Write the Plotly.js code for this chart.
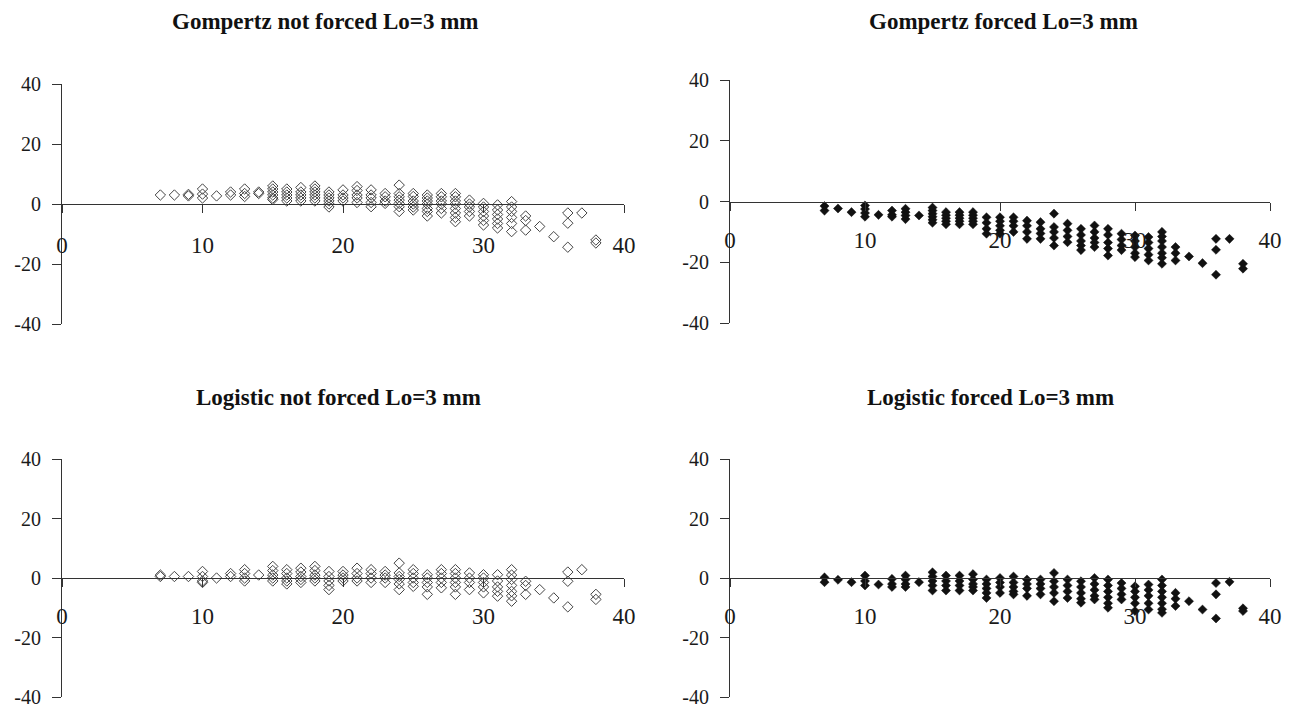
<!DOCTYPE html>
<html><head><meta charset="utf-8">
<script src="https://cdn.plot.ly/plotly-3.0.1.min.js"></script>
<style>html,body{margin:0;padding:0;background:#fff}#chart{width:1290px;height:710px}</style>
</head><body><div id="chart"></div>
<script>
const xCols = [7,8,9,10,11,12,13,14,15,16,17,18,19,20,21,22,23,24,25,26,27,28,29,30,31,32,33,34,35,36,37,38];

const gompertzNotForced = [
 [3],[3],[2.7,3.2],[5,3.3,2],[2.7],[4,3],[5,3.5,2.5],[4,3.5],
 [6,5,4,3,2,1.5],[5,4,3,2,1],[5.5,4,3,2,1],[6,5,4,3,2,1],[4,3,2,1,0,-1],
 [4.7,3,2,1],[5.8,4.5,3,2,0.5],[4.7,3,2,0.5,-0.9],[3.5,2.4,1,0.2],
 [6.3,3.5,2.4,1.3,0.2,-0.9,-2.5],[3.5,2.5,1,0,-1,-2],[3,2,1,0,-1.5,-2.5,-4],
 [3.5,2.4,1,0,-1.5,-3],[3.5,2.4,1,0,-1.5,-3,-4.5,-5.9],[1.3,0,-1,-2.5,-4],
 [0.2,-1,-2.5,-4,-5.5,-7],[-0.3,-2,-3.5,-5,-6.5,-8],[0.8,-1,-2.5,-4.5,-6.5,-9.2],
 [-4,-5.5,-8.7],[-7.5],[-10.9],[-3,-6.4,-14.4],[-3],[-12,-13]
];

const gompertzForced = [
 [-1.5,-3],[-2.3],[-3.5],[-1.3,-2.5,-3.8,-5],[-4.4],[-3,-4.4,-5],[-2.4,-3.5,-4.6,-5.8],[-4.6],
 [-2,-3,-4,-5,-6,-7],[-3.5,-4.5,-5.5,-6.5,-7.5],[-3.5,-4.5,-5.5,-6.5,-7.5],[-3.5,-4.5,-5.5,-6.5,-7.5],
 [-5.2,-7,-9,-10.6],[-5.2,-6.5,-8,-9.5,-10.6],[-5.2,-6.5,-8,-10],[-6.3,-8,-10,-12.3],[-6.8,-9,-10.5,-12.3],
 [-4,-8.4,-10,-12,-14.5],[-7.3,-9.5,-11.5,-13.4],[-9,-11,-13,-14.5,-16],[-7.9,-10,-12,-13.5,-15],
 [-9,-11,-13.5,-15.5,-17.8],[-10.6,-12.5,-14.5,-16],[-11.2,-13,-15,-17,-18.3],[-11.7,-13.5,-15.5,-17.5,-19.4],
 [-10,-11.5,-13,-15,-17,-18.5,-20.5],[-15,-17,-19.4],[-18.1],[-20.3],[-12.3,-15.9,-24.1],[-12.3],[-20.5,-22.1]
];

const logisticNotForced = [
 [0.5,1],[0.5],[0.5],[2.2,0.5,-1,-1.5],[0],[1.5,0.5],[2.8,1.5,0,-1],[1],
 [3.9,2.5,1,0,-1],[2.8,1.5,0,-1,-2],[3.3,2,0.5,-0.5,-1.5],[3.9,2.5,1,0,-1],[2.2,0.5,-1,-2.5,-3.9],
 [2.2,1,0,-1],[3.3,1.5,0,-1],[2.8,1.5,0,-1.5],[2.2,1,0,-1.5],[5,1.7,0.5,-0.5,-2,-3.9],
 [2.8,1.5,0,-1.5,-2.8],[1.1,0,-1.5,-3,-5.5],[2.8,1.5,0,-1.5,-3.3],[2.8,1.5,0,-1.5,-3,-5.5],
 [1.7,0,-1.5,-3.9],[1.1,0,-1.5,-3,-5],[1.1,-1,-3,-4.5,-6.1],[2.8,1,-0.5,-2.5,-4.5,-6,-7.8],
 [-1.1,-2.5,-5.5],[-3.9],[-6.7],[2,-1.1,-9.7],[2.8],[-5.5,-7.2]
];

const logisticForced = [
 [0.2,-1.4],[-0.6],[-1.4],[0.8,-1,-2.5],[-2.2],[-0.3,-2,-3],[0.8,-0.5,-2,-3],[-1.4],
 [1.9,0.5,-1,-2.5,-4.2],[0.8,-1,-2.5,-4.2],[0.8,-1,-2.5,-4.2],[1.3,-0.5,-2,-3,-4.2],[-0.5,-2,-3.5,-5,-6.7],
 [0,-1.5,-3,-5],[0.5,-1.5,-3,-4.5,-5.5],[-0.5,-2,-3.5,-6],[-0.5,-2,-3.5,-5.5],[1.7,-1.1,-3,-5,-7.8],
 [-0.5,-2.5,-4.5,-6.7],[-1.1,-3,-5,-7,-8.3],[0,-2,-4,-6,-7.2],[-0.5,-2.5,-4.5,-6.5,-8.5,-10],
 [-1.7,-3.5,-5.5,-7.2],[-2.8,-4.5,-6.5,-8.5,-11.1],[-2.2,-4,-6,-8.5,-10.6],[-0.5,-2.5,-4.5,-6.5,-8.5,-10.5,-11.7],
 [-5,-7,-9.4],[-7.8],[-10.6],[-1.7,-5.5,-13.6],[-1.3],[-10.2,-11.1]
];

const panelTitles = ["Gompertz not forced Lo=3 mm","Gompertz forced Lo=3 mm","Logistic not forced Lo=3 mm","Logistic forced Lo=3 mm"];
const xTickVals = [0,10,20,30,40];
const yTickVals = [-40,-20,0,20,40];
const yTickText = ["-40","-20","0","20","40"];

function flatten(cols){
  const xs=[], ys=[];
  cols.forEach((vals,i)=>vals.forEach(v=>{xs.push(xCols[i]); ys.push(v);}));
  return {xs, ys};
}

const W=1290, H=710;
const panels = [
  {data:gompertzNotForced, xpx:[62,624], ypx:[84,324], open:true, standoff:12, tx:325, ty:22},
  {data:gompertzForced, xpx:[730,1270], ypx:[80,323], open:false, standoff:10, tx:1003, ty:22},
  {data:logisticNotForced, xpx:[62,624], ypx:[459,697], open:true, standoff:9, tx:338, ty:397},
  {data:logisticForced, xpx:[730,1270], ypx:[459,697], open:false, standoff:9, tx:990, ty:397}
];

const font = "Liberation Serif, Times New Roman, serif";
const traces=[];
const layout={
  width:W, height:H, margin:{l:0,r:0,t:0,b:0},
  paper_bgcolor:'#fff', plot_bgcolor:'rgba(0,0,0,0)',
  showlegend:false, font:{family:font, color:'#1a1a1a'},
  annotations:[]
};

panels.forEach((p,i)=>{
  const n = i===0?'':(i+1);
  const d = flatten(p.data);
  traces.push({
    type:'scatter', mode:'markers', x:d.xs, y:d.ys,
    xaxis:'x'+n, yaxis:'y'+n, cliponaxis:false,
    marker: p.open ? {symbol:'diamond-open', size:8, color:'#444', line:{width:1, color:'#444'}}
                   : {symbol:'diamond', size:7, color:'#111', line:{width:0.5,color:'#111'}},
    hoverinfo:'x+y'
  });
  const xd=[p.xpx[0]/W, p.xpx[1]/W];
  const yd=[1-p.ypx[1]/H, 1-p.ypx[0]/H];
  layout['xaxis'+n]={
    domain:xd, range:[0,40], anchor:'free', position:(yd[0]+yd[1])/2,
    showline:true, linecolor:'#333', linewidth:1, showgrid:false, zeroline:false,
    ticks:'outside', ticklen:8, tickcolor:'#333', tickvals:xTickVals,
    ticklabelstandoff:p.standoff, ticklabeloverflow:'allow',
    tickfont:{family:font, size:23, color:'#1a1a1a'}
  };
  layout['yaxis'+n]={
    domain:yd, range:[-40,40], anchor:'x'+n,
    showline:true, linecolor:'#333', linewidth:1, showgrid:false, zeroline:false,
    ticks:'outside', ticklen:9, tickcolor:'#333', tickvals:yTickVals, ticktext:yTickText,
    ticklabelstandoff:7, ticklabeloverflow:'allow',
    tickfont:{family:font, size:20, color:'#1a1a1a'}
  };
  layout.annotations.push({
    text:'<b>'+panelTitles[i]+'</b>', xref:'paper', yref:'paper',
    x:p.tx/W, y:1-p.ty/H, xanchor:'center', yanchor:'middle', showarrow:false,
    font:{family:font, size:23, color:'#111'}
  });
});

Plotly.newPlot('chart', traces, layout, {displayModeBar:false, staticPlot:true});
</script></body></html>
